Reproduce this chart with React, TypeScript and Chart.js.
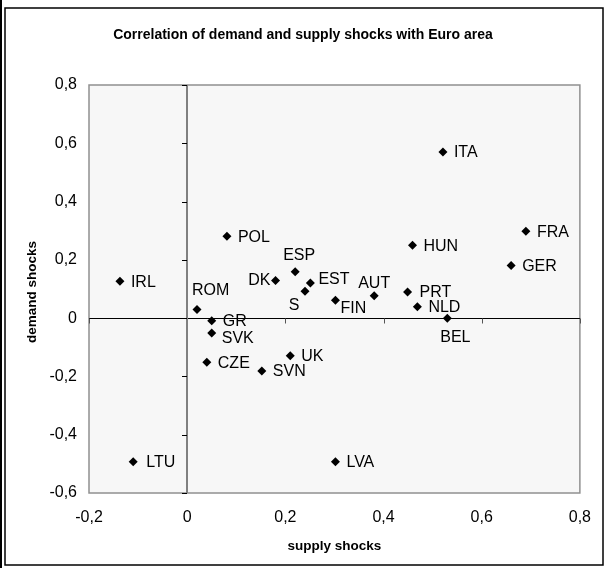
import React, { useEffect, useRef } from "react";
import { Chart, registerables } from "chart.js";

Chart.register(...registerables);

// ---------- data ----------
const countries = [
  "IRL", "ROM", "GR", "SVK", "CZE", "SVN", "DK", "UK", "POL", "ESP", "EST", "S",
  "FIN", "AUT", "ITA", "FRA", "HUN", "GER", "PRT", "NLD", "BEL", "LTU", "LVA",
];
const supplyShocks = [
  -0.137, 0.02, 0.05, 0.05, 0.04, 0.152, 0.18, 0.21, 0.081, 0.22, 0.251, 0.24,
  0.302, 0.381, 0.521, 0.69, 0.459, 0.66, 0.449, 0.469, 0.53, -0.11, 0.302,
];
const demandShocks = [
  0.127, 0.03, -0.009, -0.051, -0.151, -0.181, 0.129, -0.129, 0.281, 0.159, 0.121, 0.092,
  0.061, 0.077, 0.57, 0.298, 0.25, 0.181, 0.09, 0.039, 0.0, -0.493, -0.493,
];
const xTickValues = [-0.2, 0, 0.2, 0.4, 0.6, 0.8];
const yTickValues = [-0.6, -0.4, -0.2, 0, 0.2, 0.4, 0.6, 0.8];
const chartTitle = "Correlation of demand and supply shocks with Euro area";
const xAxisTitle = "supply shocks";
const yAxisTitle = "demand shocks";

// ---------- label placement (style only) ----------
type Place = { dx: number; dy: number; align: CanvasTextAlign };
const defaultPlace: Place = { dx: 11, dy: 0, align: "left" };
const labelPlace: Record<string, Place> = {
  ROM: { dx: -5, dy: -20, align: "left" },
  ESP: { dx: 4, dy: -17, align: "center" },
  DK: { dx: -5, dy: -1, align: "right" },
  EST: { dx: 8, dy: -4, align: "left" },
  S: { dx: -11, dy: 13, align: "center" },
  FIN: { dx: 5, dy: 7, align: "left" },
  AUT: { dx: 0, dy: -13, align: "center" },
  BEL: { dx: 8, dy: 18, align: "center" },
  SVK: { dx: 10, dy: 5, align: "left" },
  PRT: { dx: 12, dy: 0, align: "left" },
  LTU: { dx: 13, dy: 0, align: "left" },
};

const FONT = "'Liberation Sans', Arial, sans-serif";
const fmt = (v: number) => {
  const r = Math.round(v * 10) / 10;
  return (Object.is(r, -0) ? 0 : r).toString().replace(".", ",");
};

const decorPlugin = {
  id: "decor",
  beforeDraw(chart: any) {
    const { ctx, chartArea: a, width, height } = chart;
    ctx.save();
    ctx.fillStyle = "#ffffff";
    ctx.fillRect(0, 0, width, height);
    // outer frame
    ctx.strokeStyle = "#000";
    ctx.lineWidth = 2;
    ctx.beginPath();
    ctx.moveTo(1, 0);
    ctx.lineTo(1, height);
    ctx.stroke();
    ctx.lineWidth = 1.5;
    ctx.strokeRect(5, 8, width - 8, height - 11);
    // plot area
    ctx.fillStyle = "#f7f7f7";
    ctx.fillRect(a.left, a.top, a.right - a.left, a.bottom - a.top);
    ctx.strokeStyle = "#909090";
    ctx.lineWidth = 1.5;
    ctx.strokeRect(a.left, a.top, a.right - a.left, a.bottom - a.top);
    ctx.restore();
  },
  beforeDatasetsDraw(chart: any) {
    const { ctx, chartArea: a, scales } = chart;
    const x0 = Math.round(scales.x.getPixelForValue(0));
    const y0 = Math.round(scales.y.getPixelForValue(0)) + 0.5;
    ctx.save();
    // horizontal zero axis
    ctx.strokeStyle = "#000";
    ctx.lineWidth = 1;
    ctx.beginPath();
    ctx.moveTo(a.left, y0);
    ctx.lineTo(a.right, y0);
    ctx.stroke();
    ctx.strokeStyle = "#555";
    xTickValues.forEach((v) => {
      if (v === 0) return;
      const px = Math.round(scales.x.getPixelForValue(v)) + 0.5;
      ctx.beginPath();
      ctx.moveTo(px, y0);
      ctx.lineTo(px, y0 + 5);
      ctx.stroke();
    });
    // vertical zero axis
    ctx.strokeStyle = "#808080";
    ctx.lineWidth = 2;
    ctx.beginPath();
    ctx.moveTo(x0, a.top);
    ctx.lineTo(x0, a.bottom);
    ctx.stroke();
    ctx.strokeStyle = "#000";
    ctx.lineWidth = 1;
    yTickValues.forEach((v) => {
      const py = Math.round(scales.y.getPixelForValue(v)) + 0.5;
      ctx.beginPath();
      ctx.moveTo(x0 - 5, py);
      ctx.lineTo(x0, py);
      ctx.stroke();
    });
    ctx.restore();
  },
  afterDatasetsDraw(chart: any) {
    const { ctx, scales, width, chartArea: a } = chart;
    ctx.save();
    ctx.fillStyle = "#000";
    ctx.textBaseline = "middle";
    ctx.font = `16px ${FONT}`;
    countries.forEach((c, i) => {
      const px = scales.x.getPixelForValue(supplyShocks[i]);
      const py = scales.y.getPixelForValue(demandShocks[i]);
      const p = labelPlace[c] || defaultPlace;
      ctx.textAlign = p.align;
      ctx.fillText(c, px + p.dx, py + p.dy + 1);
    });
    // title
    ctx.textAlign = "center";
    ctx.font = `bold 14px ${FONT}`;
    ctx.fillText(chartTitle, width / 2, 35);
    // axis titles
    ctx.font = `bold 13.5px ${FONT}`;
    ctx.fillText(xAxisTitle, (a.left + a.right) / 2, 546);
    ctx.translate(32, (a.top + a.bottom) / 2 + 3);
    ctx.rotate(-Math.PI / 2);
    ctx.fillText(yAxisTitle, 0, 0);
    ctx.restore();
  },
};

export default function App() {
  const ref = useRef<HTMLCanvasElement>(null);
  useEffect(() => {
    document.body.style.margin = "0";
    const canvas = ref.current!;
    const chart = new Chart(canvas, {
      type: "scatter",
      data: {
        datasets: [
          {
            data: countries.map((_, i) => ({ x: supplyShocks[i], y: demandShocks[i] })),
            pointStyle: "rectRot",
            pointRadius: 4.5,
            backgroundColor: "#000",
            borderColor: "#000",
            borderWidth: 0,
          },
        ],
      },
      options: {
        animation: false,
        responsive: false,
        devicePixelRatio: 1,
        layout: { padding: { top: 85, right: 22, left: 0, bottom: 0 } },
        plugins: { legend: { display: false }, tooltip: { enabled: false }, title: { display: false } },
        scales: {
          x: {
            type: "linear",
            min: -0.2,
            max: 0.8,
            afterFit: (s: any) => {
              s.height = 75;
            },
            afterBuildTicks: (s: any) => {
              s.ticks = xTickValues.map((v) => ({ value: v }));
            },
            grid: { display: false, drawTicks: false },
            border: { display: false },
            ticks: {
              padding: 15,
              color: "#000",
              font: { family: FONT, size: 16 },
              maxRotation: 0,
              autoSkip: false,
              callback: (v: any) => fmt(Number(v)),
            },
          },
          y: {
            type: "linear",
            min: -0.6,
            max: 0.8,
            afterFit: (s: any) => {
              s.width = 89;
            },
            afterBuildTicks: (s: any) => {
              s.ticks = yTickValues.map((v) => ({ value: v }));
            },
            grid: { display: false, drawTicks: false },
            border: { display: false },
            ticks: {
              padding: 12,
              color: "#000",
              font: { family: FONT, size: 16 },
              autoSkip: false,
              callback: (v: any) => fmt(Number(v)),
            },
          },
        },
      },
      plugins: [decorPlugin],
    });
    return () => chart.destroy();
  }, []);
  return <canvas ref={ref} width={606} height={568} style={{ display: "block" }} />;
}
